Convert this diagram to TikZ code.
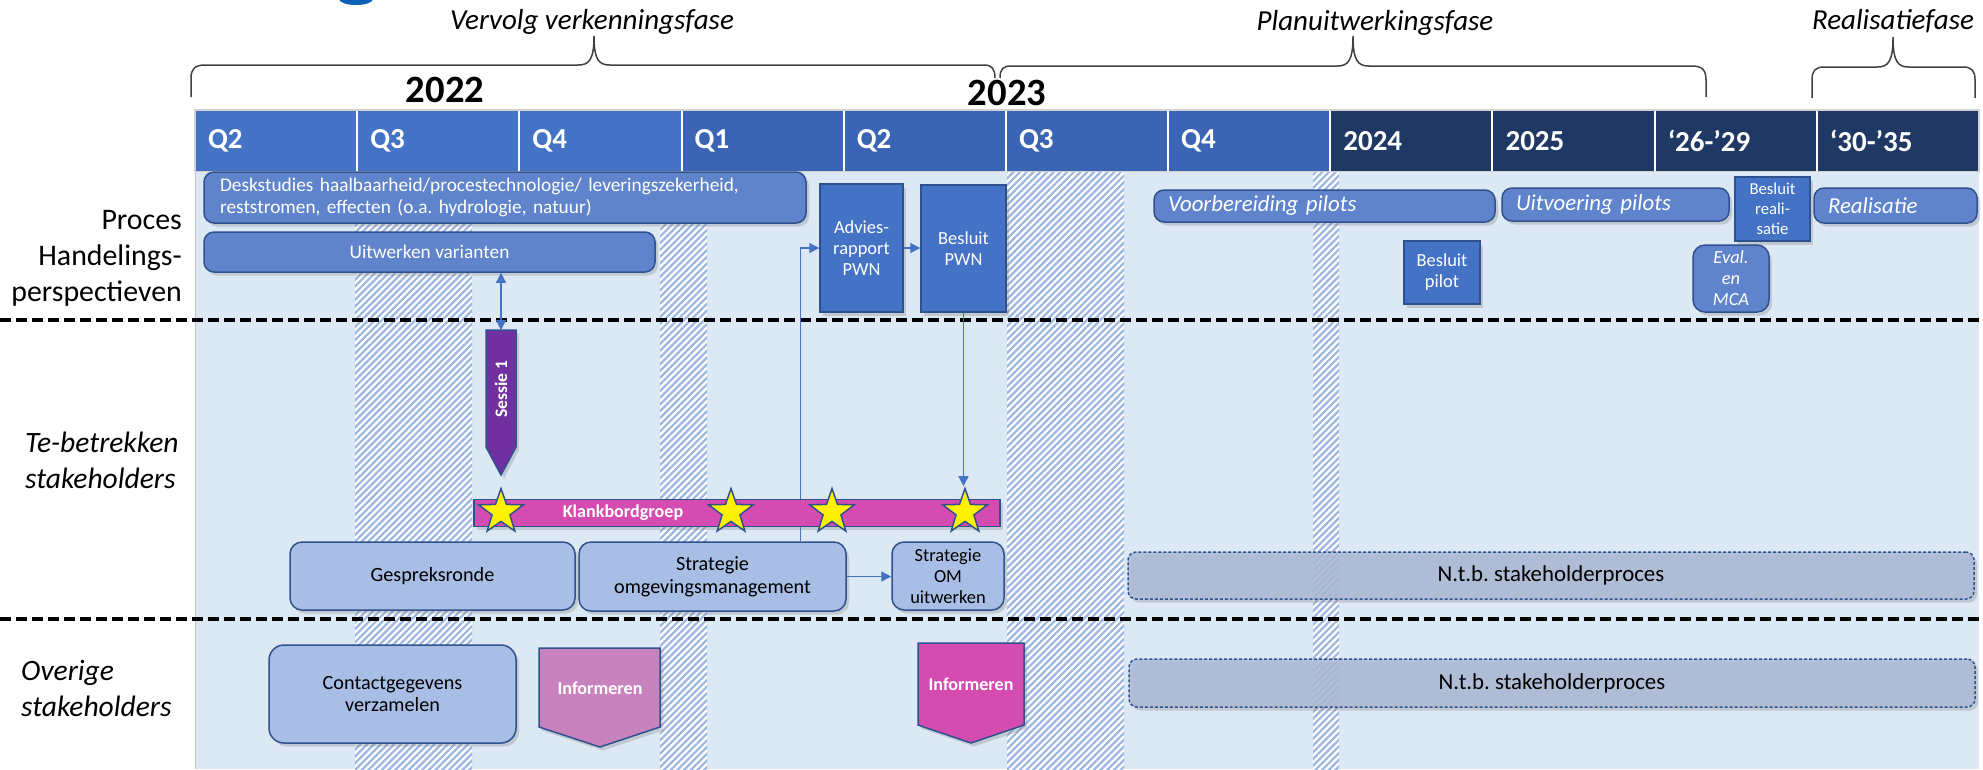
\documentclass[tikz,border=0pt]{standalone}
\usepackage{fontspec}
\setmainfont{Carlito}
\usetikzlibrary{shapes.geometric,patterns.meta,shadows,arrows.meta}
\frenchspacing

\definecolor{qlight}{HTML}{4472C4}
\definecolor{qmid}{HTML}{3B65B4}
\definecolor{qdark}{HTML}{203864}
\definecolor{lanebg}{HTML}{DDE8F5}
\definecolor{procblue}{HTML}{5F84CB}
\definecolor{rectblue}{HTML}{4472C4}
\definecolor{edgeblue}{HTML}{2F528F}
\definecolor{stakeblue}{HTML}{A9BEE4}
\definecolor{ntbblue}{HTML}{ABBAD6}
\definecolor{sesspurple}{HTML}{7030A0}
\definecolor{klankpink}{HTML}{D54CB0}
\definecolor{infpale}{HTML}{C882BD}
\definecolor{hatchblue}{HTML}{9DB6E2}
\definecolor{logoblue}{HTML}{0B62B5}

\begin{document}
\begin{tikzpicture}[x=0.02cm, y=-0.02cm, >={Triangle[length=0.2cm,width=0.2cm]},
  sz/.style 2 args={minimum width=#1*0.02cm, minimum height=#2*0.02cm},
  boxshadow/.style={drop shadow={shadow xshift=0.06cm, shadow yshift=-0.07cm, opacity=0.3}},
  hdrcell/.style={draw=white, line width=0.04cm, text=white, inner xsep=0.26cm,
    text width=2.72cm, align=left, font=\fontsize{16.5}{19}\selectfont\bfseries},
  phase/.style={anchor=base, font=\fontsize{16.5}{19}\selectfont\itshape},
  year/.style={font=\fontsize{22}{26}\selectfont\bfseries},
  lanelab/.style={font=\fontsize{17}{20.5}\selectfont},
  lanelabit/.style={font=\fontsize{16.8}{20.5}\selectfont\itshape},
  bracel/.style={draw=black!75, line width=0.03cm},
  hatchband/.style={fill=white, postaction={pattern={Lines[angle=45,distance=0.095cm,line width=0.045cm]}, pattern color=hatchblue}},
  sepline/.style={line width=0.08cm, dash pattern=on 0.22cm off 0.1cm},
  procbox/.style={boxshadow, draw=edgeblue, line width=0.03cm, fill=procblue, rounded corners=0.2cm,
    text=white, inner sep=0pt, align=center, font=\fontsize{11}{13}\selectfont},
  procit/.style={procbox, align=left, font=\fontsize{13}{15}\selectfont\itshape},
  rectbox/.style={boxshadow, draw=edgeblue, line width=0.03cm, fill=rectblue, text=white,
    inner sep=0pt, align=center, font=\fontsize{10.5}{12}\selectfont},
  stakebox/.style={boxshadow, draw=edgeblue, line width=0.03cm, fill=stakeblue, rounded corners=0.24cm,
    inner sep=0pt, align=center, font=\fontsize{11.5}{13}\selectfont},
  ntbbox/.style={stakebox, fill=ntbblue, fill opacity=0.85, text opacity=1,
    dash pattern=on 0.06cm off 0.04cm, rounded corners=0.16cm, font=\fontsize{13}{15}\selectfont},
  pentshape/.style={boxshadow, draw=edgeblue, line width=0.03cm},
  boldlab/.style={text=white, font=\fontsize{10.3}{12}\selectfont\bfseries},
  klankbar/.style={boxshadow, draw=edgeblue, line width=0.03cm, fill=klankpink, inner sep=0pt},
  kstar/.style={star, star points=5, star point ratio=2.5, fill=yellow, draw=edgeblue,
    line width=0.03cm, minimum size=0.94cm, inner sep=0pt},
  flow/.style={->, draw=rectblue, line width=0.025cm}]
\useasboundingbox (0,0) rectangle (1983,769);

% rest of the logo at the top
\fill[logoblue] (356,-1) ellipse (17 and 6);

% phases
\node[phase] (verk) at (592,29) {Vervolg verkenningsfase};
\node[phase] (planuit) at (1375,30) {Planuitwerkingsfase};
\node[phase] (realfase) at (1893,29) {Realisatiefase};
\draw[bracel] (191,97) -- (191,78) .. controls (191,69) and (195,65) .. (205,65) -- (578,65) .. controls (589,65) and (594,60) .. (594,36) .. controls (594,60) and (599,65) .. (610,65) -- (984,65) .. controls (992,65) and (995,69) .. (995,78);
\draw[bracel] (1000,78) .. controls (1000,69) and (1003,66) .. (1011,66) -- (1337,66) .. controls (1348,66) and (1353,61) .. (1353,36) .. controls (1353,61) and (1358,66) .. (1369,66) -- (1692,66) .. controls (1702,66) and (1706,70) .. (1706,80) -- (1706,97);
\draw[bracel] (1812,98) -- (1812,80) .. controls (1812,71) and (1815,67) .. (1824,67) -- (1877,67) .. controls (1888,67) and (1893,62) .. (1893,37) .. controls (1893,62) and (1898,67) .. (1909,67) -- (1963,67) .. controls (1972,67) and (1975,71) .. (1975,80) -- (1975,98);

% years
\node[year] (y22) at (445,90) {2022};
\node[year] (y23) at (1007,93) {2023};

% time bar
\foreach \lab/\col [count=\i from 0] in {Q2/qlight, Q3/qlight, Q4/qlight, Q1/qmid, Q2/qmid, Q3/qmid, Q4/qmid, 2024/qdark, 2025/qdark, ‘26-’29/qdark, ‘30-’35/qdark}
  \node[hdrcell, fill=\col, sz={162.18}{62}] (cell\i) at (276.09+162.18*\i,141) {\lab};
\draw[gray!35, line width=0.03cm] (195,110) rectangle (1979,172);

% lanes
\fill[lanebg] (195,172) rectangle (1979,769);
\foreach \a/\b in {355/472, 660/707, 1007/1124, 1313/1339}
  \path[hatchband] (\a,172) rectangle (\b,769);
\draw[gray!45, line width=0.02cm] (195,172) -- (195,769);
\draw[sepline] (0,320) -- (1983,320);
\draw[sepline] (0,619) -- (1983,619);

\node[lanelab, anchor=east, align=right] (proces) at (188,258) {Proces\\Handelings-\\perspectieven};
\node[lanelabit, anchor=west, align=left] (tebetr) at (19,460) {Te-betrekken\\stakeholders};
\node[lanelabit, anchor=west, align=left] (overig) at (15,688) {Overige\\stakeholders};

% proces
\node[procbox, sz={602}{51}, text width=11.4cm, align=left] (desk) at (505,197.5) {Deskstudies haalbaarheid/procestechnologie/ leveringszekerheid,\\reststromen, effecten (o.a. hydrologie, natuur)};
\node[procbox, sz={451}{40}] (varianten) at (429.5,252) {Uitwerken varianten};
\node[rectbox, sz={83}{128}] (advies) at (861.5,248) {Advies-\\rapport\\PWN};
\node[rectbox, sz={85}{127}] (besluitpwn) at (963.5,248.5) {Besluit\\PWN};
\node[procit, sz={341}{32}, text width=6.26cm] (voorb) at (1324.5,206) {Voorbereiding pilots};
\node[procit, sz={227}{33}, text width=3.98cm] (uitv) at (1615.5,204.5) {Uitvoering pilots};
\node[procit, sz={163}{35}, text width=2.7cm] (realis) at (1895.5,205.5) {Realisatie};
\node[rectbox, sz={75}{64}, font=\fontsize{9.5}{11.5}\selectfont] (besluitreal) at (1772.5,209) {Besluit\\reali-\\satie};
\node[rectbox, sz={76}{63}] (besluitpilot) at (1442,272.5) {Besluit\\pilot};
\node[procbox, sz={76}{67}, rounded corners=0.24cm, font=\fontsize{10.5}{12}\selectfont\itshape] (eval) at (1731,278.5) {Eval.\\en\\MCA};

% te-betrekken stakeholders
\draw[pentshape, fill=sesspurple] (486,330) -- (516,330) -- (516,447) -- (501,475) -- (486,447) -- cycle;
\coordinate (sessietop) at (501,330);
\node[boldlab, rotate=90, font=\fontsize{10}{12}\selectfont\bfseries] (sessie) at (501,389) {Sessie 1};
\node[stakebox, sz={285}{68}] (gesprek) at (432.5,576) {Gespreksronde};
\node[stakebox, sz={267}{69}] (stratomg) at (712.5,576.5) {Strategie\\omgevingsmanagement};
\node[stakebox, sz={112}{68}, font=\fontsize{10.5}{12}\selectfont] (stratom) at (948,576) {Strategie\\OM\\uitwerken};
\node[ntbbox, sz={846}{47}] (ntbtop) at (1551,575.5) {N.t.b. stakeholderproces};

\draw[flow] (advies.east) -- (advies.east -| besluitpwn.west);
\draw[flow] (stratomg.north east) ++(-46,0) |- (advies.west);
\draw[flow, <->] (sessietop |- varianten.south) -- (sessietop);
\draw[flow] (stratomg.east) -- (stratomg.east -| stratom.west);

\node[klankbar, sz={526}{27}] (klank) at (737,513) {};
\node[boldlab] (klanklab) at (623,513) {Klankbordgroep};
\foreach \sx [count=\k] in {501,731,832,965}
  \node[kstar] (star\k) at (\sx,512) {};
\draw[flow] (besluitpwn.south) -- (besluitpwn.south |- star4.north);

% overige stakeholders
\node[stakebox, sz={247}{98}, rounded corners=0.3cm] (contact) at (392.5,694) {Contactgegevens\\verzamelen};
\draw[pentshape, fill=infpale] (539,648) -- (660,648) -- (660,727) -- (600,747) -- (539,727) -- cycle;
\node[boldlab] (inform1) at (600,688) {Informeren};
\draw[pentshape, fill=klankpink] (918,643) -- (1024,643) -- (1024,725) -- (971,743) -- (918,725) -- cycle;
\node[boldlab] (inform2) at (971,684) {Informeren};
\node[ntbbox, sz={846}{48}] (ntbbot) at (1552,683) {N.t.b. stakeholderproces};
\end{tikzpicture}
\end{document}
